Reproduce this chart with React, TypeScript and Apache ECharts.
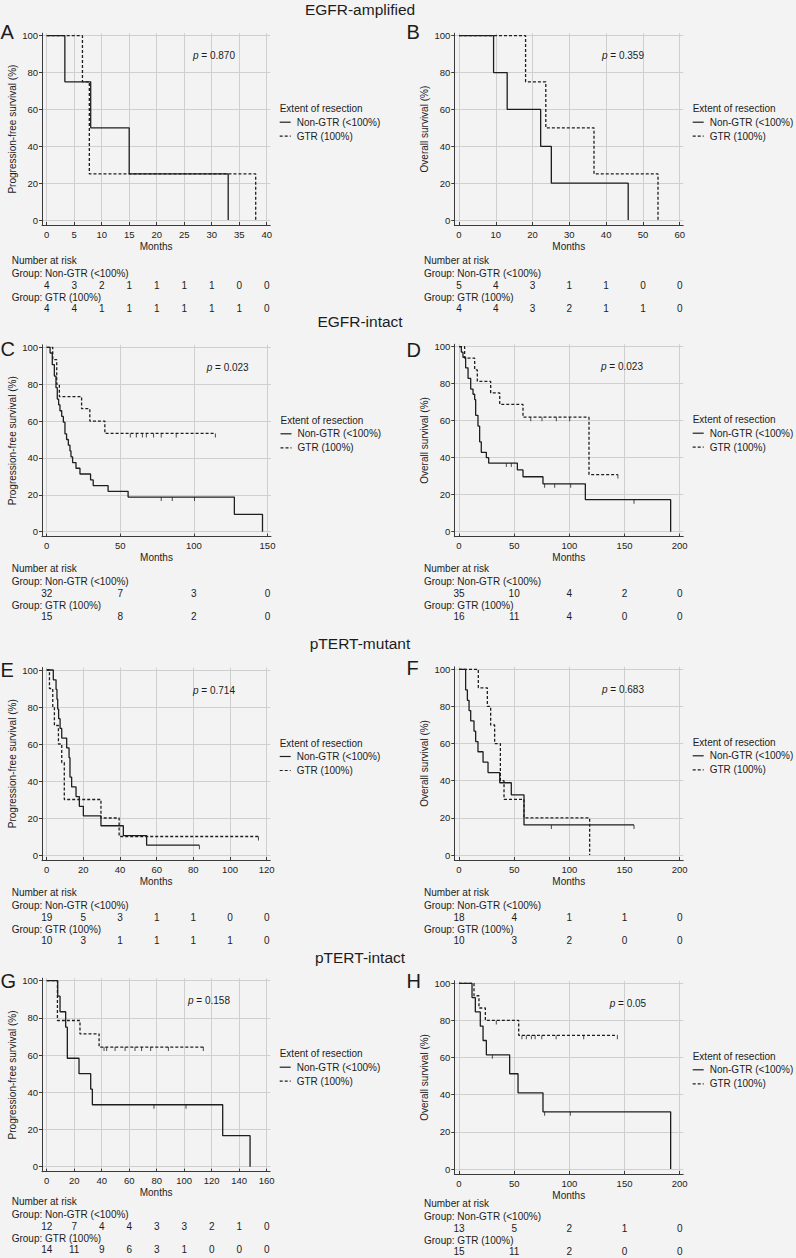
import React, { useEffect, useRef } from "react";
import * as echarts from "echarts";

type Pt = [number, number];

// ---------------- Texts ----------------
const panelLetters = ["A", "B", "C", "D", "E", "F", "G", "H"];
const sectionTitles = ["EGFR-amplified", "EGFR-intact", "pTERT-mutant", "pTERT-intact"];
const groupNames = ["Non-GTR (<100%)", "GTR (100%)"];
const legendTitle = "Extent of resection";
const pfsLabel = "Progression-free survival (%)";
const osLabel = "Overall survival (%)";
const xName = "Months";
const riskTitle = "Number at risk";
const pValues = ["0.870", "0.359", "0.023", "0.023", "0.714", "0.683", "0.158", "0.05"];

// ---------------- Tick labels ----------------
const yTicks = [0, 20, 40, 60, 80, 100];
const xTicksA = [0, 5, 10, 15, 20, 25, 30, 35, 40];
const xTicksB = [0, 10, 20, 30, 40, 50, 60];
const xTicksC = [0, 50, 100, 150];
const xTicksD = [0, 50, 100, 150, 200];
const xTicksE = [0, 20, 40, 60, 80, 100, 120];
const xTicksF = [0, 50, 100, 150, 200];
const xTicksG = [0, 20, 40, 60, 80, 100, 120, 140, 160];
const xTicksH = [0, 50, 100, 150, 200];

// ---------------- Survival curves (months, %) ----------------
const aNon: Pt[] = [[0, 100], [3.3, 75], [8.0, 50], [15.0, 25], [33.0, 0]];
const aGtr: Pt[] = [[0, 100], [6.5, 75], [7.75, 25], [38.0, 0]];
const aNonCens: Pt[] = [];
const aGtrCens: Pt[] = [];

const bNon: Pt[] = [[0, 100], [9.4, 80], [13.1, 60], [22.2, 40], [25.1, 20], [46.0, 0]];
const bGtr: Pt[] = [[0, 100], [18.1, 75], [23.6, 50], [36.7, 25], [54.1, 0]];
const bNonCens: Pt[] = [];
const bGtrCens: Pt[] = [];

const cNon: Pt[] = [[0, 100], [2.3, 96.9], [3.8, 90.6], [5.2, 84.4], [6.3, 78.1], [7.2, 71.9], [8.1, 68.8], [9.0, 65.6], [10.2, 62.5], [11.3, 59.4], [12.4, 53.1], [13.5, 50.0], [14.7, 46.9], [15.8, 43.8], [16.5, 40.6], [17.6, 37.5], [19.9, 34.4], [22.6, 31.3], [29.8, 28.1], [31.6, 25.0], [41.7, 21.9], [55.3, 18.8], [127.5, 9.4], [146.6, 0]];
const cGtr: Pt[] = [[0, 100], [4.1, 93.3], [6.8, 80.0], [8.6, 73.3], [23.7, 66.7], [29.3, 60.0], [39.5, 53.3], [114.6, 53.3]];
const cNonCens: Pt[] = [[77.8, 18.8], [85.3, 18.8], [100.4, 18.8]];
const cGtrCens: Pt[] = [[56.8, 53.3], [60.9, 53.3], [65.0, 53.3], [67.7, 53.3], [72.6, 53.3], [77.8, 53.3], [88.0, 53.3], [114.6, 53.3]];

const dNon: Pt[] = [[0, 100], [2.1, 97.1], [3.6, 94.3], [6.0, 88.6], [8.2, 82.9], [10.6, 77.1], [12.7, 74.3], [14.2, 71.4], [15.1, 62.9], [17.2, 57.1], [18.7, 48.6], [20.2, 42.9], [24.8, 40.0], [26.9, 37.1], [52.9, 33.4], [58.0, 29.7], [76.1, 25.9], [114.5, 17.3], [191.8, 0]];
const dGtr: Pt[] = [[0, 100], [5.1, 93.8], [14.2, 87.5], [16.6, 81.3], [28.7, 75.0], [36.9, 68.8], [58.0, 61.9], [117.8, 30.9], [144.0, 30.9]];
const dNonCens: Pt[] = [[42.9, 37.1], [47.4, 37.1], [77.6, 25.9], [86.7, 25.9], [101.2, 25.9], [158.6, 17.3]];
const dGtrCens: Pt[] = [[65.0, 61.9], [75.2, 61.9], [88.2, 61.9], [100.3, 61.9], [144.0, 30.9]];

const eNon: Pt[] = [[0, 100], [3.6, 94.7], [5.1, 89.5], [5.6, 84.2], [6.0, 78.9], [6.5, 73.7], [7.3, 68.4], [8.2, 63.2], [10.9, 57.9], [12.2, 52.6], [12.7, 42.1], [13.6, 36.8], [16.0, 31.6], [17.8, 26.3], [20.0, 21.1], [29.6, 15.8], [41.8, 10.5], [54.5, 5.3], [83.3, 5.3]];
const eGtr: Pt[] = [[0, 100], [1.5, 90], [3.3, 80], [4.2, 70], [6.4, 60], [8.2, 50], [9.6, 30], [29.6, 20], [39.5, 10], [115.5, 10]];
const eNonCens: Pt[] = [[83.3, 5.3]];
const eGtrCens: Pt[] = [[115.5, 10]];

const fNon: Pt[] = [[0, 100], [6.0, 88.9], [7.6, 83.3], [9.1, 77.8], [10.6, 72.2], [13.6, 66.7], [15.1, 61.1], [17.2, 55.6], [21.8, 50.0], [26.3, 44.4], [36.9, 38.9], [47.4, 32.4], [58.9, 16.2], [158.6, 16.2]];
const fGtr: Pt[] = [[0, 100], [17.5, 90], [25.7, 80], [28.7, 70], [32.3, 60], [37.5, 40], [40.8, 30], [58.9, 20], [118.4, 0]];
const fNonCens: Pt[] = [[83.7, 16.2], [158.6, 16.2]];
const fGtrCens: Pt[] = [];

const gNon: Pt[] = [[0, 100], [8.0, 91.7], [9.7, 83.3], [13.8, 75.0], [15.0, 58.3], [23.5, 50.0], [32.0, 41.7], [33.2, 33.3], [128.0, 16.7], [147.9, 0]];
const gGtr: Pt[] = [[0, 100], [7.8, 78.6], [24.2, 71.4], [38.1, 64.3], [113.9, 64.3]];
const gNonCens: Pt[] = [[78.0, 33.3], [101.3, 33.3]];
const gGtrCens: Pt[] = [[41.7, 64.3], [43.6, 64.3], [49.7, 64.3], [57.0, 64.3], [64.2, 64.3], [69.0, 64.3], [75.6, 64.3], [88.5, 64.3], [113.9, 64.3]];

const hNon: Pt[] = [[0, 100], [11.8, 92.3], [14.8, 84.6], [19.3, 76.9], [21.8, 69.2], [24.8, 61.5], [45.9, 51.3], [53.5, 41.0], [76.1, 30.8], [191.8, 0]];
const hGtr: Pt[] = [[0, 100], [13.6, 93.3], [18.1, 86.7], [23.9, 80.0], [54.1, 72.0], [143.5, 72.0]];
const hNonCens: Pt[] = [[30.2, 61.5], [77.6, 30.8], [100.9, 30.8]];
const hGtrCens: Pt[] = [[33.8, 80], [57.0, 72], [61.0, 72], [65.6, 72], [69.0, 72], [75.0, 72], [88.0, 72], [113.0, 72], [143.5, 72]];

// ---------------- Numbers at risk ----------------
const aRiskNon = [4, 3, 2, 1, 1, 1, 1, 0, 0];
const aRiskGtr = [4, 4, 1, 1, 1, 1, 1, 1, 0];
const bRiskNon = [5, 4, 3, 1, 1, 0, 0];
const bRiskGtr = [4, 4, 3, 2, 1, 1, 0];
const cRiskNon = [32, 7, 3, 0];
const cRiskGtr = [15, 8, 2, 0];
const dRiskNon = [35, 10, 4, 2, 0];
const dRiskGtr = [16, 11, 4, 0, 0];
const eRiskNon = [19, 5, 3, 1, 1, 0, 0];
const eRiskGtr = [10, 3, 1, 1, 1, 1, 0];
const fRiskNon = [18, 4, 1, 1, 0];
const fRiskGtr = [10, 3, 2, 0, 0];
const gRiskNon = [12, 7, 4, 4, 3, 3, 2, 1, 0];
const gRiskGtr = [14, 11, 9, 6, 3, 1, 0, 0, 0];
const hRiskNon = [13, 5, 2, 1, 0];
const hRiskGtr = [15, 11, 2, 0, 0];

const PANELS = [
  { xTicks: xTicksA, yName: pfsLabel, non: aNon, gtr: aGtr, nonC: aNonCens, gtrC: aGtrCens, rNon: aRiskNon, rGtr: aRiskGtr },
  { xTicks: xTicksB, yName: osLabel, non: bNon, gtr: bGtr, nonC: bNonCens, gtrC: bGtrCens, rNon: bRiskNon, rGtr: bRiskGtr },
  { xTicks: xTicksC, yName: pfsLabel, non: cNon, gtr: cGtr, nonC: cNonCens, gtrC: cGtrCens, rNon: cRiskNon, rGtr: cRiskGtr },
  { xTicks: xTicksD, yName: osLabel, non: dNon, gtr: dGtr, nonC: dNonCens, gtrC: dGtrCens, rNon: dRiskNon, rGtr: dRiskGtr },
  { xTicks: xTicksE, yName: pfsLabel, non: eNon, gtr: eGtr, nonC: eNonCens, gtrC: eGtrCens, rNon: eRiskNon, rGtr: eRiskGtr },
  { xTicks: xTicksF, yName: osLabel, non: fNon, gtr: fGtr, nonC: fNonCens, gtrC: fGtrCens, rNon: fRiskNon, rGtr: fRiskGtr },
  { xTicks: xTicksG, yName: pfsLabel, non: gNon, gtr: gGtr, nonC: gNonCens, gtrC: gGtrCens, rNon: gRiskNon, rGtr: gRiskGtr },
  { xTicks: xTicksH, yName: osLabel, non: hNon, gtr: hGtr, nonC: hNonCens, gtrC: hGtrCens, rNon: hRiskNon, rGtr: hRiskGtr },
];

// ---------------- Layout (pixels) ----------------
const W = 796;
const H = 1258;
const LAYOUT = [
  { x0: 46.7, x1: 266.7, y100: 35.7, y0: 220, letterY: 31.7, pX: 193, riskY: 260 },
  { x0: 459, x1: 679.7, y100: 35.7, y0: 220, letterY: 31.7, pX: 602, riskY: 260 },
  { x0: 46.7, x1: 267.5, y100: 347.3, y0: 531.7, letterY: 349, pX: 206.7, riskY: 568.3 },
  { x0: 459, x1: 679.7, y100: 346.7, y0: 531.7, letterY: 350, pX: 601, riskY: 568.3 },
  { x0: 46.7, x1: 266.7, y100: 670, y0: 855, letterY: 670, pX: 193, riskY: 892.3 },
  { x0: 459, x1: 679.7, y100: 669.3, y0: 855, letterY: 668, pX: 602, riskY: 892.3 },
  { x0: 46.7, x1: 266.7, y100: 980.7, y0: 1166.7, letterY: 980.5, pX: 188, riskY: 1201 },
  { x0: 459, x1: 679.7, y100: 983.3, y0: 1169, letterY: 981.3, pX: 609.7, riskY: 1203.3 },
];
const TITLE_X = 360;
const TITLE_Y = [9, 321, 643, 957];
const PAD_L = 4.7;
const PAD_R = 3.5;
const PAD_T = 2.5;
const PAD_B = 5;

const FONT = "'Liberation Sans', Arial, Helvetica, sans-serif";
const BG = "#f3f3f3";
const TEXT = "#1c1c1c";
const AXIS = "#3a3a3a";
const GRIDC = "#cfcfcf";
const CURVE = "#1e1e1e";
const DASH = [3, 2];

function txt(x: number, y: number, text: string, extra: any = {}) {
  const align = extra.align || "left";
  return {
    type: "text",
    x,
    y,
    silent: true,
    style: {
      text,
      fontSize: 10,
      fontFamily: FONT,
      fill: TEXT,
      align,
      textAlign: align,
      verticalAlign: "middle",
      textVerticalAlign: "middle",
      ...extra,
    },
  };
}

export default function App() {
  const ref = useRef<HTMLDivElement>(null);

  useEffect(() => {
    const el = ref.current;
    if (!el) return;
    document.body.style.margin = "0";
    document.body.style.background = BG;
    const chart = echarts.init(el, null, { renderer: "svg", width: W, height: H });

    const grid: any[] = [];
    const xAxis: any[] = [];
    const yAxis: any[] = [];
    const series: any[] = [];

    PANELS.forEach((p, i) => {
      const L = LAYOUT[i];
      const xMax = p.xTicks[p.xTicks.length - 1];
      const pxX = (L.x1 - L.x0) / xMax;
      const pxY = (L.y0 - L.y100) / 100;
      grid.push({
        left: L.x0 - PAD_L,
        top: L.y100 - PAD_T,
        width: L.x1 - L.x0 + PAD_L + PAD_R,
        height: L.y0 - L.y100 + PAD_T + PAD_B,
        containLabel: false,
      });
      xAxis.push({
        type: "value",
        gridIndex: i,
        min: -PAD_L / pxX,
        max: xMax + PAD_R / pxX,
        axisLine: { show: true, onZero: false, lineStyle: { color: AXIS, width: 1 } },
        axisTick: { show: true, customValues: p.xTicks, inside: true, length: 3, lineStyle: { color: AXIS } },
        axisLabel: { show: true, customValues: p.xTicks, margin: 4, fontSize: 9.5, color: TEXT, fontFamily: FONT, hideOverlap: false },
        splitLine: { show: true, lineStyle: { color: GRIDC, width: 1 } },
        name: xName,
        nameLocation: "middle",
        nameGap: 16,
        nameTextStyle: { fontSize: 10, color: TEXT, fontFamily: FONT },
      });
      yAxis.push({
        type: "value",
        gridIndex: i,
        min: -PAD_B / pxY,
        max: 100 + PAD_T / pxY,
        axisLine: { show: true, onZero: false, lineStyle: { color: AXIS, width: 1 } },
        axisTick: { show: true, customValues: yTicks, inside: false, length: 3, lineStyle: { color: AXIS } },
        axisLabel: { show: true, customValues: yTicks, margin: 4, fontSize: 9.5, color: TEXT, fontFamily: FONT, hideOverlap: false },
        splitLine: { show: true, lineStyle: { color: GRIDC, width: 1 } },
        name: p.yName,
        nameLocation: "middle",
        nameGap: 25,
        nameTextStyle: { fontSize: 10, color: TEXT, fontFamily: FONT },
      });
      const curves: [Pt[], Pt[], any][] = [
        [p.non, p.nonC, "solid"],
        [p.gtr, p.gtrC, DASH],
      ];
      curves.forEach(([d, c, type], k) => {
        series.push({
          type: "line",
          name: groupNames[k] + " " + panelLetters[i],
          xAxisIndex: i,
          yAxisIndex: i,
          data: d,
          step: "end",
          symbol: "none",
          showSymbol: false,
          silent: true,
          lineStyle: { color: CURVE, width: 1.3, type },
          z: 3,
        });
        series.push({
          type: "scatter",
          xAxisIndex: i,
          yAxisIndex: i,
          data: c,
          symbol: "rect",
          symbolSize: [1, 4],
          symbolOffset: [0, 2],
          silent: true,
          itemStyle: { color: CURVE },
          z: 4,
        });
      });
    });

    chart.setOption({
      animation: false,
      backgroundColor: BG,
      textStyle: { fontFamily: FONT },
      grid,
      xAxis,
      yAxis,
      series,
    });

    const g: any[] = [];
    sectionTitles.forEach((t, k) => {
      g.push(txt(TITLE_X, TITLE_Y[k], t, { fontSize: 15.5, align: "center" }));
    });

    PANELS.forEach((p, i) => {
      const L = LAYOUT[i];
      const isLeft = i % 2 === 0;
      const letterX = isLeft ? 0.5 : 406.5;
      g.push(txt(letterX, L.letterY, panelLetters[i], { fontSize: 20 }));

      // p value
      g.push({
        type: "text",
        x: L.pX,
        y: L.y100 + 20,
        silent: true,
        style: {
          text: "{i|p} = " + pValues[i],
          fontSize: 10,
          fontFamily: FONT,
          fill: TEXT,
          align: "left",
          textAlign: "left",
          verticalAlign: "middle",
          textVerticalAlign: "middle",
          rich: { i: { fontStyle: "italic", fontSize: 10, fontFamily: FONT, fill: TEXT } },
        },
      });

      // legend
      const lx = L.x1 + 13;
      g.push(txt(lx, L.y100 + 73, legendTitle));
      const rows = [L.y100 + 86.5, L.y100 + 100.5];
      rows.forEach((ry, k) => {
        g.push({
          type: "line",
          silent: true,
          shape: { x1: lx, y1: ry, x2: lx + 11, y2: ry },
          style: { stroke: CURVE, lineWidth: 1.2, lineDash: k === 0 ? null : DASH },
        });
        g.push(txt(lx + 17, ry, groupNames[k]));
      });

      // number at risk
      const tx = isLeft ? 11.7 : 424;
      g.push(txt(tx, L.riskY, riskTitle));
      g.push(txt(tx, L.riskY + 13.5, "Group: " + groupNames[0]));
      g.push(txt(tx, L.riskY + 37, "Group: " + groupNames[1]));
      const numRows: [number[], number][] = [
        [p.rNon, L.riskY + 25.5],
        [p.rGtr, L.riskY + 48.5],
      ];
      numRows.forEach(([vals, ry]) => {
        vals.forEach((v, j) => {
          const pt = chart.convertToPixel({ gridIndex: i } as any, [p.xTicks[j], 0]) as number[];
          g.push(txt(pt[0], ry, String(v), { align: "center" }));
        });
      });
    });

    chart.setOption({ graphic: g });

    return () => {
      chart.dispose();
    };
  }, []);

  return <div ref={ref} style={{ position: "absolute", left: 0, top: 0, width: W, height: H }} />;
}
